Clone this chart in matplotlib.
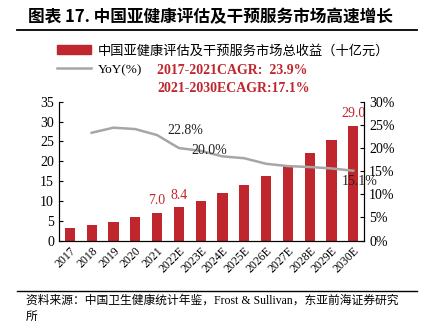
import matplotlib
matplotlib.use("Agg")
import matplotlib.pyplot as plt
from matplotlib.lines import Line2D
from matplotlib.patches import Patch

years = ["2017", "2018", "2019", "2020", "2021", "2022E", "2023E", "2024E",
         "2025E", "2026E", "2027E", "2028E", "2029E", "2030E"]
revenue = [3.3, 3.9, 4.8, 6.0, 7.0, 8.4, 10.1, 12.0, 14.1, 16.3, 18.8, 22.0, 25.3, 29.0]
yoy_years = years[1:]
yoy = [23.3, 24.4, 24.1, 22.8, 20.0, 19.4, 18.2, 17.8, 16.6, 16.1, 15.9, 15.6, 15.1]
bar_labels = {"2021": "7.0", "2022E": "8.4", "2030E": "29.0"}
yoy_labels = {"2021": "22.8%", "2022E": "20.0%", "2030E": "15.1%"}

title = "图表 17. 中国亚健康评估及干预服务市场高速增长"
legend_bar = "中国亚健康评估及干预服务市场总收益（十亿元）"
legend_line = "YoY(%)"
cagr1 = "2017-2021CAGR:  23.9%"
cagr2 = "2021-2030ECAGR:17.1%"
source = "资料来源：中国卫生健康统计年鉴，Frost & Sullivan，东亚前海证券研究\n所"

RED = "#C0262D"
GREY = "#A6A6A6"
SERIF = ["Liberation Serif", "Noto Sans CJK SC"]
CJK = ["Noto Sans CJK SC", "DejaVu Sans"]

plt.rcParams["font.family"] = SERIF

fig = plt.figure(figsize=(4.21, 3.23), dpi=100)
ax = fig.add_axes([0.140, 0.255, 0.725, 0.430])
ax2 = ax.twinx()

x = list(range(len(years)))
bars = ax.bar(x, revenue, width=0.47, color=RED, zorder=2)
xi = [years.index(y) for y in yoy_years]
line, = ax2.plot(xi, yoy, color=GREY, lw=1.8, zorder=3)

ax.set_xlim(-0.5, len(years) - 0.5)
ax.set_ylim(0, 35)
ax.set_yticks(range(0, 36, 5))
ax2.set_ylim(0, 30)
ax2.set_yticks(range(0, 31, 5))
ax2.set_yticklabels([f"{v}%" for v in range(0, 31, 5)])
ax.set_xticks(x)
ax.set_xticklabels(years, rotation=45, ha="right", rotation_mode="anchor", fontsize=8.5)

for a in (ax, ax2):
    a.spines["top"].set_visible(False)
    a.tick_params(axis="y", direction="in", length=3, labelsize=10, width=0.8)
ax.tick_params(axis="x", length=0, pad=3)
ax2.set_zorder(ax.get_zorder() + 1)
ax2.patch.set_visible(False)

for yr, txt in bar_labels.items():
    i = years.index(yr)
    ax.annotate(txt, (i, revenue[i]), xytext=(0, 4), textcoords="offset points",
                ha="center", va="bottom", color=RED, fontsize=10)
offsets = {"2021": (20, 3), "2022E": (22, -1.5), "2030E": (4.5, -8)}
for yr, txt in yoy_labels.items():
    i = years.index(yr)
    j = yoy_years.index(yr)
    dx, dy = offsets[yr]
    ax2.annotate(txt, (i, yoy[j]), xytext=(dx, dy), textcoords="offset points",
                 ha="center", va="center", color="#222222", fontsize=10)

fig.text(0.5, 0.948, title, ha="center", va="center", fontsize=12,
         fontweight="bold", family=CJK)
fig.add_artist(Line2D([0.04, 0.99], [0.907, 0.907], color="black", lw=1.3))

fig.legend([Patch(color=RED), Line2D([], [], color=GREY, lw=1.8)],
           [legend_bar, legend_line], loc="upper left",
           bbox_to_anchor=(0.135, 0.862), frameon=False, fontsize=9.5,
           handlelength=2.6, handleheight=0.6, labelspacing=0.5,
           handletextpad=0.5, borderaxespad=0, borderpad=0)

fig.text(0.373, 0.783, cagr1, ha="left", va="center", color=RED,
         fontsize=10, fontweight="bold")
fig.text(0.373, 0.727, cagr2, ha="left", va="center", color=RED,
         fontsize=10, fontweight="bold")

fig.add_artist(Line2D([0.04, 0.99], [0.100, 0.100], color="black", lw=1.0))
fig.text(0.062, 0.045, source, ha="left", va="center", fontsize=8.5,
         family=SERIF, linespacing=1.45)

fig.savefig("out.png", dpi=100)
